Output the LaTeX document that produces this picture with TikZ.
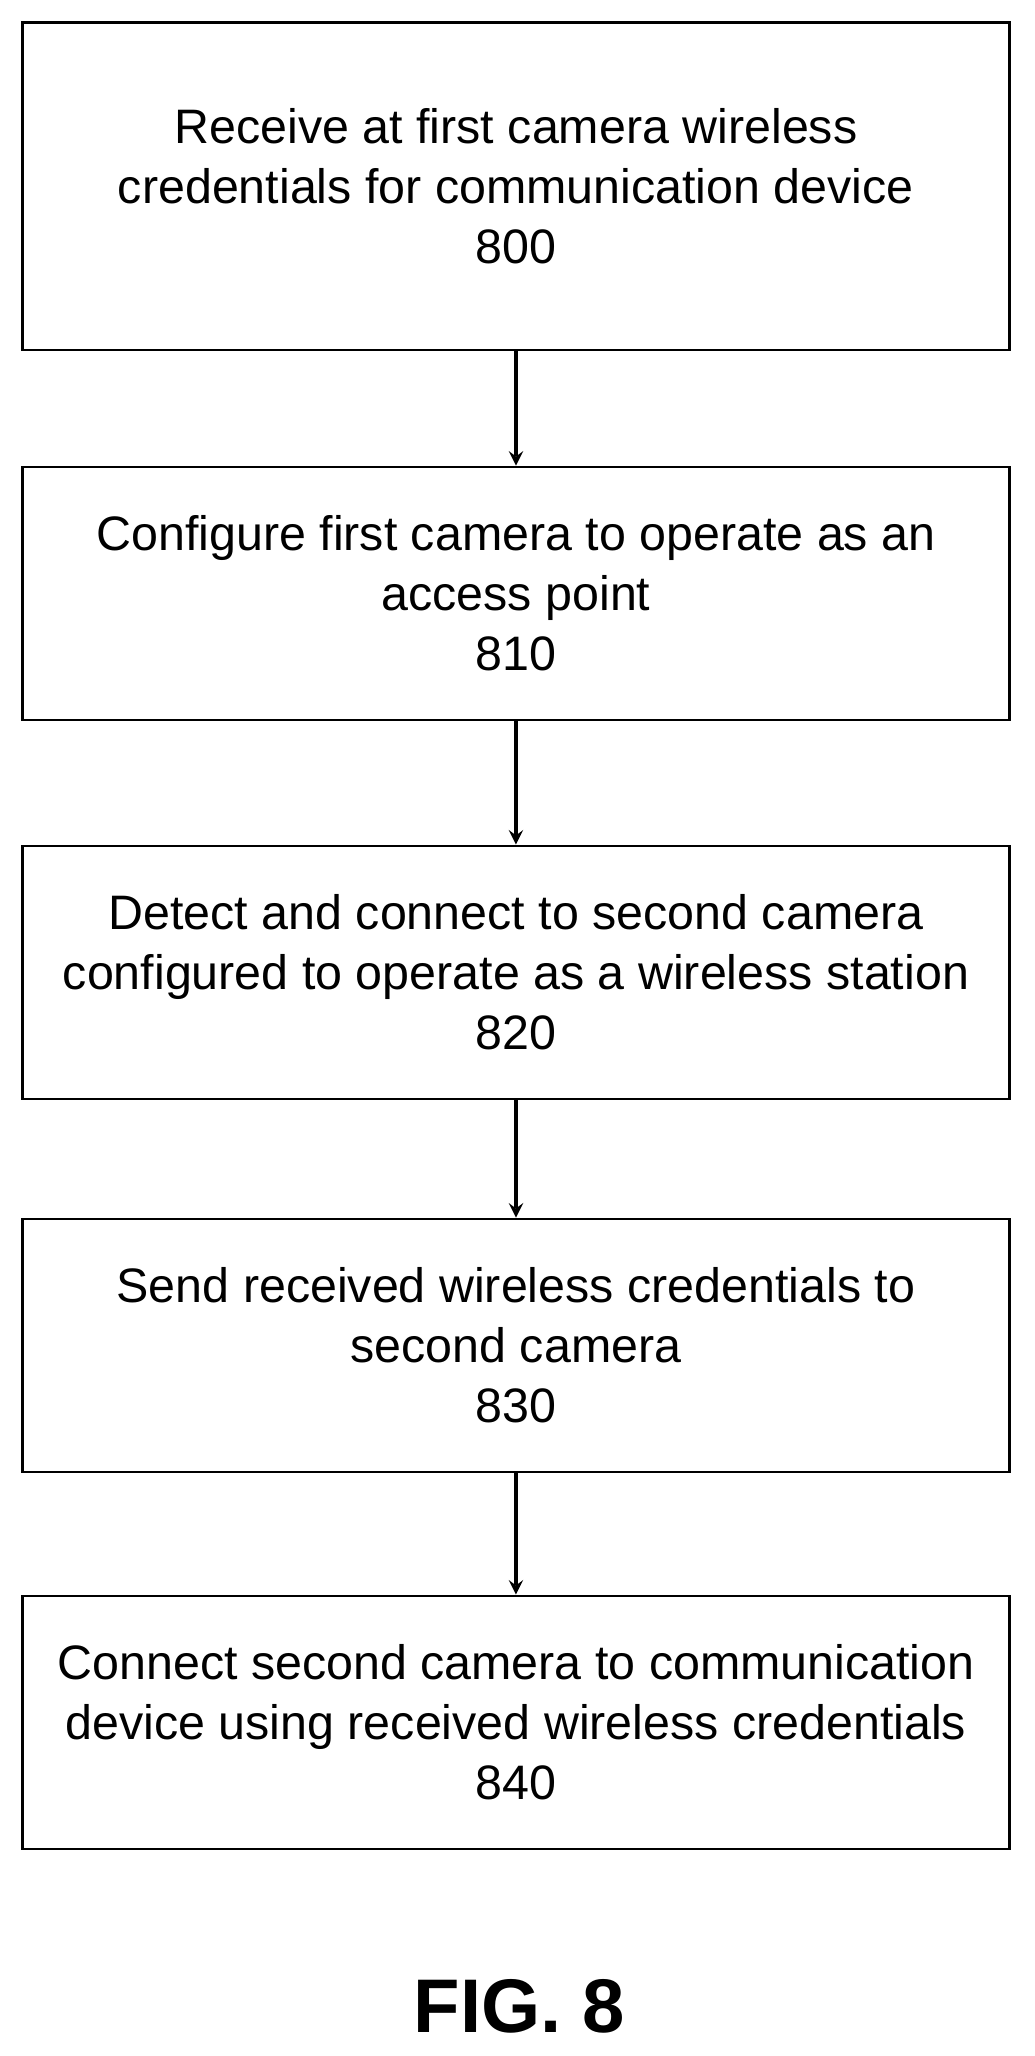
\documentclass[tikz,border=0pt]{standalone}
\usepackage{fontspec}
\setmainfont{Liberation Sans}
\usetikzlibrary{positioning}

\begin{document}
\begin{tikzpicture}[x=0.02cm,y=-0.02cm, line width=1.1pt]
		\tikzstyle{flowbox}=[draw=black,rectangle,minimum width=15.06cm,minimum height=3.86cm,inner sep=0pt,align=center,font=\fontsize{21}{26}\selectfont]
		\tikzstyle{flow}=[-stealth,line width=1.7pt]
		\useasboundingbox (0,0) rectangle (789,1568);
		\node[flowbox, minimum height=5cm] (s800) at (393.5,142) {Receive at first camera wireless\\credentials for communication device\\800};
		\node[flowbox] (s810) at (393.5,452.5) {Configure first camera to operate as an\\access point\\810};
		\node[flowbox] (s820) at (393.5,741.5) {Detect and connect to second camera\\configured to operate as a wireless station\\820};
		\node[flowbox] (s830) at (393.5,1026) {Send received wireless credentials to\\second camera\\830};
		\node[flowbox] (s840) at (393.5,1313.5) {Connect second camera to communication\\device using received wireless credentials\\840};
		\node[font=\bfseries\fontsize{33}{40}\selectfont] (fig) at (396,1530) {FIG. 8};
		\draw[flow] (s800) -- (s810);
		\draw[flow] (s810) -- (s820);
		\draw[flow] (s820) -- (s830);
		\draw[flow] (s830) -- (s840);
	\end{tikzpicture}
\end{document}
